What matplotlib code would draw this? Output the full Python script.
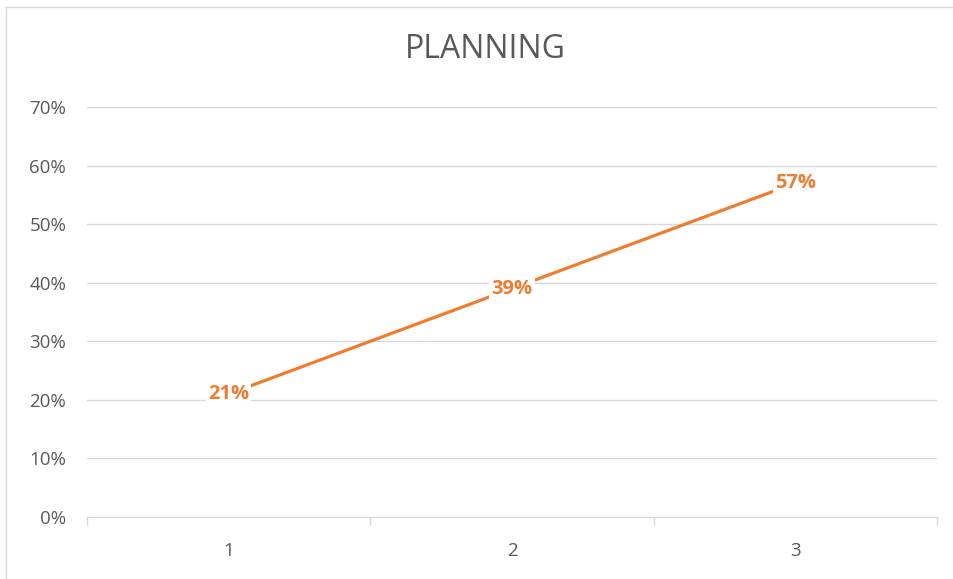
import matplotlib
matplotlib.use('Agg')
import matplotlib.pyplot as plt
from matplotlib.lines import Line2D

# data
categories = ['1', '2', '3']
values = [0.21, 0.39, 0.57]
y_ticks = [0, 0.1, 0.2, 0.3, 0.4, 0.5, 0.6, 0.7]

orange = '#ED7D31'
grey_text = '#595959'
grid_col = '#D9D9D9'

plt.rcParams['font.family'] = ['Open Sans', 'DejaVu Sans']

fig = plt.figure(figsize=(9.54, 5.79), dpi=100)
ax = fig.add_axes([87 / 954, 1 - 517 / 579, 850 / 954, 410 / 579])

x = list(range(len(categories)))
ax.plot(x, values, color=orange, linewidth=2.3, solid_capstyle='round')

for xi, v in zip(x, values):
    ax.text(xi, v, f'{v:.0%}', color=orange, fontsize=14.5, fontweight='bold',
            ha='center', va='center',
            bbox=dict(boxstyle='square,pad=0.1', facecolor='white', edgecolor='none'))

ax.set_xlim(-0.5, len(categories) - 0.5)
ax.set_ylim(0, 0.7)
ax.set_yticks(y_ticks)
ax.set_yticklabels([f'{t:.0%}' for t in y_ticks])
ax.set_xticks(x)
ax.set_xticklabels(categories)

# category boundary tick marks
ax.set_xticks([i - 0.5 for i in range(len(categories) + 1)], minor=True)
ax.tick_params(axis='x', which='major', length=0, pad=18, labelsize=13.5, labelcolor=grey_text)
ax.tick_params(axis='x', which='minor', length=6, color=grid_col, width=1)
ax.tick_params(axis='y', length=0, pad=15, labelsize=13.5, labelcolor=grey_text)

ax.grid(axis='y', color=grid_col, linewidth=1)
ax.set_axisbelow(True)
for s in ['top', 'right', 'left']:
    ax.spines[s].set_visible(False)
ax.spines['bottom'].set_color(grid_col)
ax.spines['bottom'].set_zorder(0.5)

fig.text(485 / 954, 1 - 50 / 579, 'PLANNING', ha='center', va='center',
         fontsize=23, color=grey_text)

# chart border (left and top visible)
fig.add_artist(Line2D([6.5 / 954, 6.5 / 954], [0, 1 - 7 / 579], color=grid_col,
                      linewidth=1, transform=fig.transFigure))
fig.add_artist(Line2D([6.5 / 954, 1], [1 - 7 / 579, 1 - 7 / 579], color=grid_col,
                      linewidth=1, transform=fig.transFigure))

fig.savefig('out.png', dpi=100)
